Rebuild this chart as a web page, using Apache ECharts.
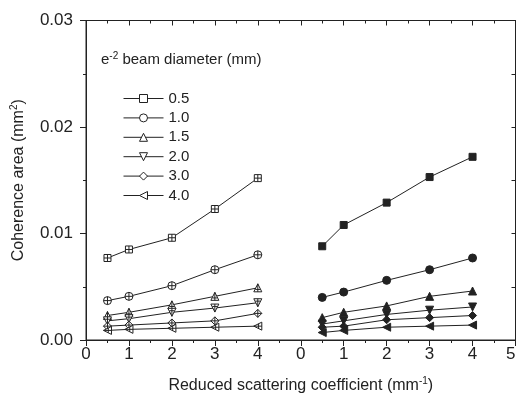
<!DOCTYPE html>
<html>
<head>
<meta charset="utf-8">
<script src="https://cdn.jsdelivr.net/npm/echarts@6/dist/echarts.min.js"></script>
<style>
  html, body { margin: 0; background: #fff; }
  #chart { width: 517px; height: 394px; }
</style>
</head>
<body>
<div id="chart"></div>
<script>
// reduced scattering coefficient (mm^-1), same for both panels
const coef = [0.5, 1, 2, 3, 4]
// the right panel is drawn 5 units further along the shared x axis
const panelOffset = 5
const xTickLabels = ['0', '1', '2', '3', '4', '0', '1', '2', '3', '4', '5']
const beamDiameters = ['0.5', '1.0', '1.5', '2.0', '3.0', '4.0']

// left panel, coherence area (mm^2)
const left05 = [0.0077, 0.0085, 0.0096, 0.0123, 0.0152]
const left10 = [0.0037, 0.0041, 0.0051, 0.0066, 0.0080]
const left15 = [0.0023, 0.0026, 0.0033, 0.0041, 0.0049]
const left20 = [0.0018, 0.0020, 0.0026, 0.0030, 0.0035]
const left30 = [0.0013, 0.0014, 0.0016, 0.0018, 0.0025]
const left40 = [0.0009, 0.0010, 0.0011, 0.0012, 0.0013]

// right panel, coherence area (mm^2)
const right05 = [0.0088, 0.0108, 0.0129, 0.0153, 0.0172]
const right10 = [0.0040, 0.0045, 0.0056, 0.0066, 0.0077]
const right15 = [0.0021, 0.0026, 0.0032, 0.0041, 0.0046]
const right20 = [0.0015, 0.0018, 0.0024, 0.0028, 0.0031]
const right30 = [0.0012, 0.0013, 0.0019, 0.0021, 0.0023]
const right40 = [0.0007, 0.0009, 0.0012, 0.0013, 0.0014]

const ink = '#222'

// open markers (legend), crossed markers (left), filled markers (right)
const openSymbols = ['rect', 'circle', 'triangle', 'path://M0,0H10L5,10Z', 'diamond', 'path://M0,5L10,0V10Z']
const crossSymbols = [
  'path://M0,0H10V10H0Z M5,0V10 M0,5H10',
  'path://M0,5A5,5,0,1,1,10,5A5,5,0,1,1,0,5Z M5,0V10 M0,5H10',
  'path://M5,0L10,10H0Z M5,0V10 M2,7H8',
  'path://M0,0H10L5,10Z M5,0V10 M2,3H8',
  'path://M5,0L10,5L5,10L0,5Z M5,0V10 M0,5H10',
  'path://M0,5L10,0V10Z M0,5H10 M6,2V8',
]
const filledSymbols = ['rect', 'circle', 'triangle', 'path://M0,0H10L5,10Z', 'diamond', 'path://M0,5L10,0V10Z']
const symbolSizes = [7, 8, 8, 8, 8, 8]

const leftSets = [left05, left10, left15, left20, left30, left40]
const rightSets = [right05, right10, right15, right20, right30, right40]

// left panel sits on the mirror (top/right) axes, right panel on the main ones;
// both pairs share the same range so this only keeps every axis in use
const lineSeries = (name, values, offset, symbol, size, fill, axis) => ({
  name,
  type: 'line',
  xAxisIndex: axis,
  yAxisIndex: axis,
  data: values.map((v, i) => [coef[i] + offset, v]),
  symbol,
  symbolSize: size,
  showSymbol: true,
  silent: true,
  lineStyle: { color: ink, width: 1 },
  itemStyle: { color: fill, borderColor: ink, borderWidth: 1 },
})

const series = []
beamDiameters.forEach((d, k) => {
  // legend-only entry with the plain open marker
  series.push({ name: d, type: 'line', data: [], symbol: openSymbols[k] })
  series.push(lineSeries('L' + d, leftSets[k], 0, crossSymbols[k], symbolSizes[k], '#fff', 1))
  series.push(lineSeries('R' + d, rightSets[k], panelOffset, filledSymbols[k], symbolSizes[k], ink, 0))
})

const font = 'Liberation Sans, Arial, sans-serif'
const supRich = (size) => ({
  a: { fontFamily: font, fontSize: size, fontWeight: 'normal', color: ink, lineHeight: size + 3 },
  s: { fontFamily: font, fontSize: 10, fontWeight: 'normal', color: ink, lineHeight: 10, verticalAlign: 'top' },
})

const frameLine = () => ({ show: true, onZero: false, lineStyle: { color: ink, width: 1 } })
const ticks = (length, inside) => ({ show: true, inside, length, lineStyle: { color: ink, width: 1 } })
const minor = (length) => ({ show: true, splitNumber: 2, length, lineStyle: { color: ink, width: 1 } })
// mirror axes keep their labels switched on but empty, placed inside the plot
const blankLabels = () => ({ show: true, inside: true, margin: 0, formatter: () => '' })

const chart = echarts.init(document.getElementById('chart'), null, { renderer: 'canvas' })
chart.setOption({
  animation: false,
  backgroundColor: '#fff',
  textStyle: { fontFamily: font },
  title: {
    text: '{a|e}{s|-2}{a| beam diameter (mm)}',
    left: 101,
    top: 51,
    padding: 0,
    textStyle: { fontWeight: 'normal', rich: supRich(15) },
  },
  legend: {
    data: beamDiameters,
    orient: 'vertical',
    left: 123,
    top: 91,
    padding: 0,
    itemWidth: 40,
    itemHeight: 10,
    itemGap: 4.4,
    selectedMode: false,
    itemStyle: { color: '#fff', borderColor: ink, borderWidth: 1 },
    lineStyle: { color: ink, width: 1 },
    textStyle: { fontFamily: font, fontSize: 15, color: ink, lineHeight: 15 },
  },
  grid: {
    left: 86, right: 1.5, top: 20.5, bottom: 54,
    containLabel: false,
    outerBoundsMode: 'none',
    show: true, borderColor: ink, borderWidth: 1, backgroundColor: 'transparent',
  },
  xAxis: [
    {
      type: 'value',
      position: 'bottom',
      min: 0,
      max: 10,
      interval: 1,
      name: '{a|Reduced scattering coefficient (mm}{s|-1}{a|)}',
      nameLocation: 'middle',
      nameGap: 36,
      nameTextStyle: { rich: supRich(16) },
      axisLine: frameLine(),
      axisTick: ticks(6, false),
      minorTick: minor(3),
      splitLine: { show: false },
      axisLabel: {
        fontFamily: font,
        fontSize: 17,
        color: ink,
        margin: 6,
        alignMaxLabel: 'right',
        formatter: (v) => xTickLabels[Math.round(v)],
      },
    },
    {
      type: 'value',
      position: 'top',
      min: 0,
      max: 10,
      interval: 1,
      axisLine: frameLine(),
      axisTick: ticks(5, true),
      minorTick: minor(3),
      splitLine: { show: false },
      axisLabel: blankLabels(),
    },
  ],
  yAxis: [
    {
      type: 'value',
      position: 'left',
      min: 0,
      max: 0.03,
      interval: 0.01,
      name: '{a|Coherence area (mm}{s|2}{a|)}',
      nameLocation: 'middle',
      nameGap: 58,
      nameTextStyle: { rich: supRich(16) },
      axisLine: frameLine(),
      axisTick: ticks(6, false),
      minorTick: minor(3),
      splitLine: { show: false },
      axisLabel: {
        fontFamily: font,
        fontSize: 17,
        color: ink,
        margin: 13,
        formatter: (v) => v.toFixed(2),
      },
    },
    {
      type: 'value',
      position: 'right',
      min: 0,
      max: 0.03,
      interval: 0.01,
      axisLine: frameLine(),
      axisTick: ticks(4, true),
      minorTick: minor(4),
      splitLine: { show: false },
      axisLabel: blankLabels(),
    },
  ],
  series,
})
</script>
</body>
</html>
